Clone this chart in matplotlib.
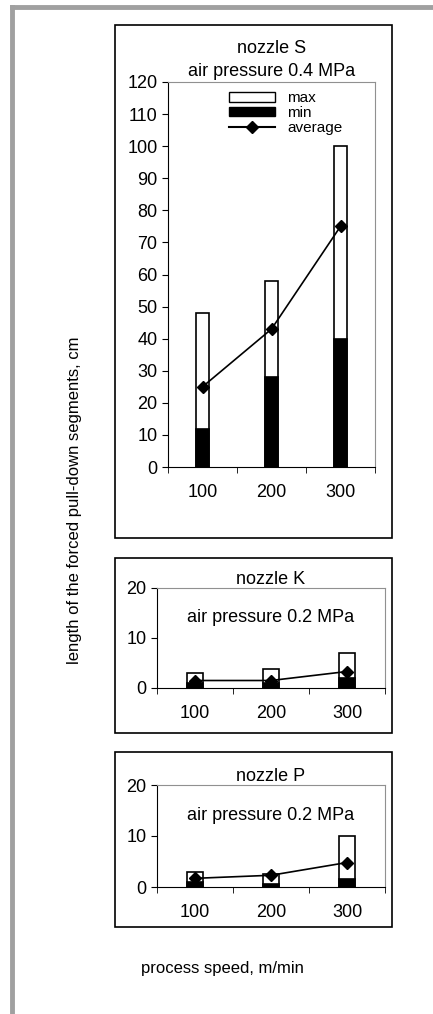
import matplotlib.pyplot as plt
from matplotlib.patches import Rectangle
from matplotlib.lines import Line2D

speeds = ["100", "200", "300"]

s_max = [48, 58, 100]
s_min = [12, 28, 40]
s_avg = [25, 43, 75]

k_max = [3, 3.8, 7]
k_min = [1, 1, 2]
k_avg = [1.5, 1.5, 3.3]

p_max = [3, 2.5, 10]
p_min = [1, 0.5, 1.5]
p_avg = [1.7, 2.3, 4.8]

W, H = 433, 1014
fig = plt.figure(figsize=(W / 100, H / 100), dpi=100)
plt.rcParams['font.family'] = ['Liberation Sans', 'DejaVu Sans']

def px(x0, y0, x1, y1):
    return [x0 / W, 1 - y1 / H, (x1 - x0) / W, (y1 - y0) / H]

# gray outer frame
fig.add_artist(Line2D([12 / W, 12 / W], [0, 1 - 7 / H], color='#a0a0a0', lw=3.5))
fig.add_artist(Line2D([12 / W, 1], [1 - 7 / H, 1 - 7 / H], color='#a0a0a0', lw=3.5))

# panel boxes
for y0, y1 in [(25, 538), (558, 733), (752, 927)]:
    fig.add_artist(Rectangle((115 / W, 1 - y1 / H), 277 / W, (y1 - y0) / H,
                             fill=False, ec='black', lw=1.2))

def panel(rect, mx, mn, av, ymax, step, width):
    ax = fig.add_axes(rect)
    x = range(len(speeds))
    ax.bar(x, mx, width=width, color='white', edgecolor='black', lw=1.2, zorder=2)
    ax.bar(x, mn, width=width, color='black', edgecolor='black', lw=1.2, zorder=3)
    ax.plot(x, av, color='black', marker='D', ms=6, lw=1.2, zorder=4)
    ax.set_xlim(-0.5, 2.5)
    ax.set_ylim(0, ymax)
    ax.set_yticks(range(0, ymax + 1, step))
    ax.set_xticks(list(x))
    ax.set_xticklabels(speeds)
    ax.set_xticks([-0.5, 0.5, 1.5, 2.5], minor=True)
    ax.tick_params(axis='x', which='major', length=0, labelsize=13, pad=12)
    ax.tick_params(axis='x', which='minor', length=4, direction='out')
    ax.tick_params(axis='y', labelsize=13, length=4)
    for s in ['top', 'right']:
        ax.spines[s].set_color('#909090')
    return ax

ax1 = panel(px(168, 82, 375, 467), s_max, s_min, s_avg, 120, 10, 0.19)
ax1.set_title("nozzle S\nair pressure 0.4 MPa", fontsize=13, pad=4, linespacing=1.5)
ax1.legend(handles=[Rectangle((0, 0), 1, 1, fc='white', ec='black'),
                    Rectangle((0, 0), 1, 1, fc='black', ec='black'),
                    Line2D([], [], color='black', marker='D', ms=6)],
           labels=['max', 'min', 'average'], loc='upper center', frameon=False,
           fontsize=11, handlelength=3, handleheight=0.6, labelspacing=0.05,
           borderaxespad=0.2, bbox_to_anchor=(0.57, 1))

ax2 = panel(px(157, 588, 385, 688), k_max, k_min, k_avg, 20, 10, 0.22)
ax2.set_title("nozzle K", fontsize=13, pad=2)
ax2.text(0.5, 0.7, "air pressure 0.2 MPa", transform=ax2.transAxes,
         ha='center', va='center', fontsize=13)

ax3 = panel(px(157, 785, 385, 887), p_max, p_min, p_avg, 20, 10, 0.22)
ax3.set_title("nozzle P", fontsize=13, pad=2)
ax3.text(0.5, 0.7, "air pressure 0.2 MPa", transform=ax3.transAxes,
         ha='center', va='center', fontsize=13)

fig.text(75 / W, 1 - 500 / H, "length of the forced pull-down segments, cm",
         rotation=90, ha='center', va='center', fontsize=12)
fig.text(222 / W, 1 - 968 / H, "process speed, m/min", ha='center', va='center', fontsize=12)

fig.savefig("out.png", dpi=100)
